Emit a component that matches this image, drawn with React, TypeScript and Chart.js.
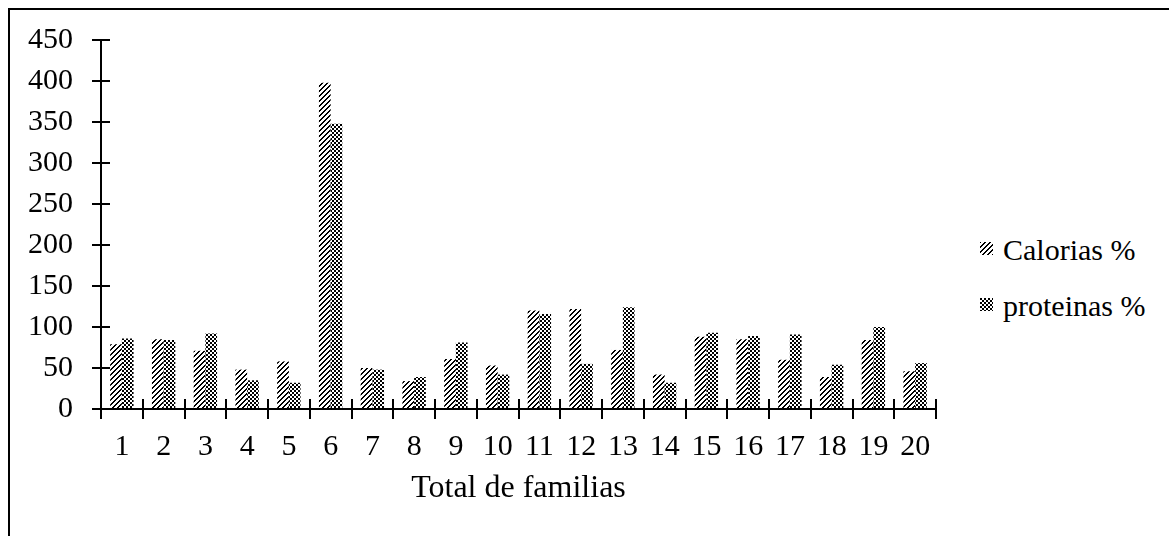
import React, { useEffect, useRef } from "react";
import { Chart, registerables } from "chart.js";

Chart.register(...registerables);

const categories: string[] = ["1","2","3","4","5","6","7","8","9","10","11","12","13","14","15","16","17","18","19","20"];
const calorias: number[] = [79, 85, 71, 48, 58, 398, 50, 34, 61, 53, 120, 122, 72, 42, 88, 85, 60, 39, 84, 46];
const proteinas: number[] = [86, 84, 92, 35, 32, 348, 48, 39, 81, 42, 116, 55, 124, 32, 93, 89, 91, 54, 100, 56];
const seriesNames: string[] = ["Calorias %", "proteinas %"];
const xTitle = "Total de familias";
const yMin = 0;
const yMax = 450;
const yStep = 50;

const FONT = "'Liberation Serif', 'Times New Roman', serif";

function makeHatch(): HTMLCanvasElement {
  const c = document.createElement("canvas");
  c.width = 5;
  c.height = 5;
  const g = c.getContext("2d")!;
  g.fillStyle = "#000";
  for (let i = 0; i < 5; i++) {
    g.fillRect(i, 4 - i, 1, 1);
    g.fillRect((i + 1) % 5, 4 - i, 1, 1);
  }
  return c;
}

function makeChecker(): HTMLCanvasElement {
  const c = document.createElement("canvas");
  c.width = 4;
  c.height = 4;
  const g = c.getContext("2d")!;
  g.fillStyle = "#000";
  g.fillRect(0, 0, 2, 2);
  g.fillRect(2, 2, 2, 2);
  return c;
}

const crossTicks = {
  id: "crossTicks",
  afterDraw(chart: any) {
    const { ctx, chartArea, scales } = chart;
    const x = scales.x;
    const y = scales.y;
    ctx.save();
    ctx.strokeStyle = "#000";
    ctx.lineWidth = 2;
    ctx.beginPath();
    for (let v = yMin; v <= yMax; v += yStep) {
      const py = Math.round(y.getPixelForValue(v));
      ctx.moveTo(chartArea.left - 9, py);
      ctx.lineTo(chartArea.left + 9, py);
    }
    const half = (x.getPixelForValue(1) - x.getPixelForValue(0)) / 2;
    for (let i = 0; i <= categories.length; i++) {
      const px = Math.round(x.getPixelForValue(i) - half);
      ctx.moveTo(px, chartArea.bottom - 10);
      ctx.lineTo(px, chartArea.bottom + 10);
    }
    ctx.stroke();
    ctx.restore();
  },
};

export default function App() {
  const ref = useRef<HTMLCanvasElement | null>(null);
  const leg1 = useRef<HTMLCanvasElement | null>(null);
  const leg2 = useRef<HTMLCanvasElement | null>(null);

  useEffect(() => {
    const canvas = ref.current!;
    const ctx = canvas.getContext("2d")!;
    const hatch = ctx.createPattern(makeHatch(), "repeat")!;
    const checker = ctx.createPattern(makeChecker(), "repeat")!;

    [leg1.current, leg2.current].forEach((lc, i) => {
      if (!lc) return;
      const g = lc.getContext("2d")!;
      g.clearRect(0, 0, lc.width, lc.height);
      g.fillStyle = g.createPattern(i === 0 ? makeHatch() : makeChecker(), "repeat")!;
      g.fillRect(0, 0, lc.width, lc.height);
    });

    const chart = new Chart(canvas, {
      type: "bar",
      data: {
        labels: categories,
        datasets: [
          { label: seriesNames[0], data: calorias, backgroundColor: hatch as any, borderWidth: 0 },
          { label: seriesNames[1], data: proteinas, backgroundColor: checker as any, borderWidth: 0 },
        ],
      },
      options: {
        animation: false,
        responsive: false,
        maintainAspectRatio: false,
        layout: { padding: { top: 30, right: 24, left: 0, bottom: 0 } },
        plugins: { legend: { display: false }, tooltip: { enabled: false } },
        datasets: { bar: { categoryPercentage: 0.56, barPercentage: 1.0 } } as any,
        scales: {
          x: {
            grid: { display: false, drawTicks: false },
            border: { display: true, color: "#000", width: 2 },
            ticks: { color: "#000", font: { family: FONT, size: 30 }, padding: 20, maxRotation: 0, autoSkip: false },
            title: { display: true, text: xTitle, color: "#000", font: { family: FONT, size: 32 }, padding: { top: 0, bottom: 22 } },
            afterFit: (s: any) => { s.height = 121; s.paddingLeft = 0; s.paddingRight = 0; },
          },
          y: {
            min: yMin,
            max: yMax,
            grid: { display: false, drawTicks: false },
            border: { display: true, color: "#000", width: 2 },
            ticks: { stepSize: yStep, color: "#000", font: { family: FONT, size: 30 }, padding: 28 },
            afterFit: (s: any) => { s.width = 91; s.paddingTop = 0; s.paddingBottom = 0; },
          },
        },
      },
      plugins: [crossTicks],
    });
    return () => chart.destroy();
  }, []);

  const textStyle: React.CSSProperties = {
    position: "absolute",
    left: 993,
    fontFamily: FONT,
    fontSize: 30,
    lineHeight: "30px",
    color: "#000",
    whiteSpace: "nowrap",
  };

  return (
    <div
      style={{
        position: "absolute",
        left: 8,
        top: 8,
        width: 1161,
        height: 528,
        boxSizing: "border-box",
        borderTop: "2px solid #000",
        borderLeft: "2px solid #000",
        overflow: "hidden",
        background: "#fff",
      }}
    >
      <canvas ref={ref} width={950} height={520} style={{ position: "absolute", left: 0, top: 0, width: 950, height: 520 }} />
      <canvas ref={leg1} width={13} height={13} style={{ position: "absolute", left: 970, top: 232 }} />
      <canvas ref={leg2} width={13} height={13} style={{ position: "absolute", left: 970, top: 288 }} />
      <div style={{ ...textStyle, top: 225 }}>{seriesNames[0]}</div>
      <div style={{ ...textStyle, top: 281 }}>{seriesNames[1]}</div>
    </div>
  );
}
